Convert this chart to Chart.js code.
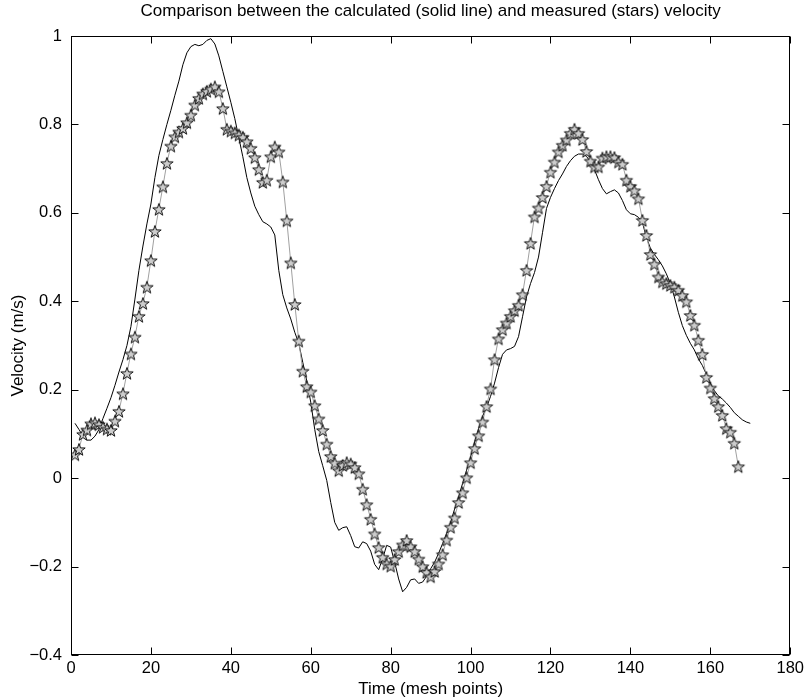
<!DOCTYPE html>
<html>
<head>
<title>Calculated vs measured velocity</title>
<script src="https://cdn.jsdelivr.net/npm/chart.js"></script>
<style>
    body { margin: 0; background: #fff; }
    #wrap { width: 808px; height: 700px; }
</style>
</head>
<body>
<div id="wrap"><canvas id="velChart" width="808" height="700"></canvas></div>
<script>
// axis ticks
const xTicks = [0, 20, 40, 60, 80, 100, 120, 140, 160, 180];
const yTicks = [-0.4, -0.2, 0, 0.2, 0.4, 0.6, 0.8, 1];

// measured velocity (stars), mesh points 1..167
const measured = [
    0.054, 0.066, 0.100, 0.110, 0.124, 0.126, 0.122, 0.116, 0.112, 0.109,
    0.130, 0.152, 0.192, 0.238, 0.282, 0.320, 0.367, 0.396, 0.433, 0.493,
    0.559, 0.609, 0.660, 0.713, 0.752, 0.773, 0.784, 0.792, 0.805, 0.822,
    0.845, 0.860, 0.870, 0.876, 0.881, 0.886, 0.875, 0.837, 0.790, 0.786,
    0.782, 0.777, 0.772, 0.762, 0.747, 0.726, 0.699, 0.670, 0.675, 0.728,
    0.750, 0.739, 0.671, 0.583, 0.488, 0.394, 0.311, 0.243, 0.208, 0.196,
    0.165, 0.135, 0.109, 0.078, 0.050, 0.035, 0.018, 0.030, 0.036, 0.033,
    0.025, 0.011, -0.024, -0.059, -0.092, -0.125, -0.156, -0.178, -0.193, -0.198,
    -0.183, -0.165, -0.150, -0.140, -0.154, -0.165, -0.182, -0.199, -0.212, -0.222,
    -0.210, -0.193, -0.172, -0.139, -0.110, -0.089, -0.054, -0.032, 0.002, 0.036,
    0.068, 0.097, 0.128, 0.163, 0.203, 0.269, 0.316, 0.337, 0.352, 0.367,
    0.380, 0.392, 0.416, 0.471, 0.532, 0.592, 0.612, 0.636, 0.661, 0.693,
    0.716, 0.739, 0.754, 0.766, 0.781, 0.790, 0.781, 0.767, 0.740, 0.718,
    0.705, 0.705, 0.725, 0.728, 0.728, 0.726, 0.716, 0.711, 0.675, 0.661,
    0.651, 0.633, 0.584, 0.550, 0.507, 0.485, 0.456, 0.445, 0.441, 0.437,
    0.433, 0.426, 0.414, 0.400, 0.369, 0.347, 0.313, 0.281, 0.229, 0.205,
    0.181, 0.163, 0.143, 0.113, 0.105, 0.080, 0.027
];

// calculated velocity (solid line), mesh points 1..170
const calculated = [
    0.124, 0.110, 0.095, 0.086, 0.086, 0.095, 0.110, 0.135, 0.158, 0.182,
    0.210, 0.240, 0.268, 0.300, 0.343, 0.405, 0.470, 0.525, 0.575, 0.620,
    0.680, 0.730, 0.766, 0.800, 0.832, 0.866, 0.898, 0.935, 0.962, 0.976,
    0.981, 0.978, 0.981, 0.990, 0.994, 0.982, 0.955, 0.920, 0.885, 0.850,
    0.813, 0.770, 0.727, 0.680, 0.645, 0.615, 0.596, 0.580, 0.575, 0.568,
    0.550, 0.470, 0.415, 0.385, 0.360, 0.330, 0.305, 0.262, 0.220, 0.172,
    0.110, 0.060, 0.028, -0.005, -0.055, -0.100, -0.118, -0.112, -0.110, -0.130,
    -0.155, -0.158, -0.144, -0.148, -0.165, -0.195, -0.207, -0.182, -0.152, -0.156,
    -0.190, -0.228, -0.257, -0.247, -0.230, -0.228, -0.238, -0.235, -0.222, -0.205,
    -0.190, -0.170, -0.148, -0.125, -0.100, -0.070, -0.042, -0.012, 0.018, 0.048,
    0.082, 0.112, 0.140, 0.160, 0.185, 0.215, 0.250, 0.280, 0.290, 0.293,
    0.298, 0.320, 0.365, 0.410, 0.440, 0.465, 0.500, 0.555, 0.610, 0.635,
    0.655, 0.673, 0.688, 0.705, 0.718, 0.728, 0.733, 0.733, 0.728, 0.715,
    0.698, 0.675, 0.655, 0.643, 0.648, 0.652, 0.645, 0.628, 0.607, 0.598,
    0.596, 0.590, 0.578, 0.545, 0.520, 0.506, 0.494, 0.480, 0.462, 0.440,
    0.410, 0.375, 0.345, 0.323, 0.305, 0.290, 0.270, 0.255, 0.235, 0.215,
    0.198, 0.186, 0.179, 0.170, 0.160, 0.148, 0.140, 0.132, 0.127, 0.124
];

const TITLE = 'Comparison between the calculated (solid line) and measured (stars) velocity';
const FONT = '"Liberation Sans", Arial, sans-serif';

// five pointed star marker, like matlab's 'p'
function makeStar(r) {
    const c = document.createElement('canvas');
    const s = Math.ceil(r * 2 + 3);
    c.width = s;
    c.height = s;
    const g = c.getContext('2d');
    g.beginPath();
    for (let k = 0; k < 10; k++) {
        const rad = k % 2 ? r * 0.4 : r;
        const a = -Math.PI / 2 + k * Math.PI / 5;
        const px = s / 2 + rad * Math.cos(a);
        const py = s / 2 + 1 + rad * Math.sin(a);
        if (k === 0) g.moveTo(px, py); else g.lineTo(px, py);
    }
    g.closePath();
    g.fillStyle = '#cdcdcd';
    g.fill();
    g.strokeStyle = '#111';
    g.lineWidth = 1;
    g.stroke();
    return c;
}

// box round the plot with inward ticks on all four sides, title centred over the axes
const boxPlugin = {
    id: 'box',
    afterDatasetsDraw(chart) {
        const { ctx, chartArea: a, scales: { x, y } } = chart;
        const L = Math.round(a.left) + 0.5, R = Math.round(a.right) - 0.5;
        const T = Math.round(a.top) + 0.5, B = Math.round(a.bottom) - 0.5;
        const len = 7;
        ctx.save();
        ctx.strokeStyle = '#000';
        ctx.lineWidth = 1;
        ctx.strokeRect(L, T, R - L, B - T);
        ctx.beginPath();
        xTicks.forEach(v => {
            const px = Math.round(x.getPixelForValue(v)) + 0.5;
            ctx.moveTo(px, B); ctx.lineTo(px, B - len);
            ctx.moveTo(px, T); ctx.lineTo(px, T + len);
        });
        yTicks.forEach(v => {
            const py = Math.round(y.getPixelForValue(v)) + 0.5;
            ctx.moveTo(L, py); ctx.lineTo(L + len, py);
            ctx.moveTo(R, py); ctx.lineTo(R - len, py);
        });
        ctx.stroke();

        ctx.fillStyle = '#000';
        ctx.font = '17px ' + FONT;
        ctx.textAlign = 'center';
        ctx.textBaseline = 'middle';
        ctx.fillText(TITLE, (a.left + a.right) / 2, 11);
        ctx.restore();
    }
};

const ctx = document.getElementById('velChart').getContext('2d');
new Chart(ctx, {
    type: 'line',
    data: {
        datasets: [
            {
                label: 'measured',
                data: measured.map((v, i) => ({ x: i + 1, y: v })),
                borderColor: '#a0a0a0',
                borderWidth: 1,
                pointStyle: makeStar(6.5),
                pointRadius: 6,
                tension: 0,
                order: 0
            },
            {
                label: 'calculated',
                data: calculated.map((v, i) => ({ x: i + 1, y: v })),
                borderColor: '#000',
                borderWidth: 1,
                pointRadius: 0,
                tension: 0,
                order: 1
            }
        ]
    },
    options: {
        responsive: false,
        animation: false,
        layout: { padding: { left: 0, right: 16, top: 36, bottom: 0 } },
        plugins: {
            legend: { display: false },
            tooltip: { enabled: false },
            title: { display: false }
        },
        scales: {
            x: {
                type: 'linear',
                min: 0,
                max: 180,
                afterFit: s => { s.height = 45; },
                afterBuildTicks: s => { s.ticks = xTicks.map(v => ({ value: v })); },
                grid: { display: false, drawTicks: false },
                border: { display: false },
                ticks: { color: '#000', padding: 4, maxRotation: 0, font: { family: FONT, size: 16.5 } },
                title: {
                    display: true,
                    text: 'Time (mesh points)',
                    color: '#000',
                    font: { family: FONT, size: 17 },
                    padding: { top: 0, bottom: 0 }
                }
            },
            y: {
                min: -0.4,
                max: 1,
                afterFit: s => { s.width = 71; },
                afterBuildTicks: s => { s.ticks = yTicks.map(v => ({ value: v })); },
                grid: { display: false, drawTicks: false },
                border: { display: false },
                ticks: {
                    color: '#000',
                    padding: 9,
                    font: { family: FONT, size: 16.5 },
                    callback: v => String(Math.round(v * 10) / 10).replace('-', '\u2212')
                },
                title: {
                    display: true,
                    text: 'Velocity (m/s)',
                    color: '#000',
                    font: { family: FONT, size: 17 },
                    padding: { top: 8, bottom: 0 }
                }
            }
        }
    },
    plugins: [boxPlugin]
});
</script>
</body>
</html>
